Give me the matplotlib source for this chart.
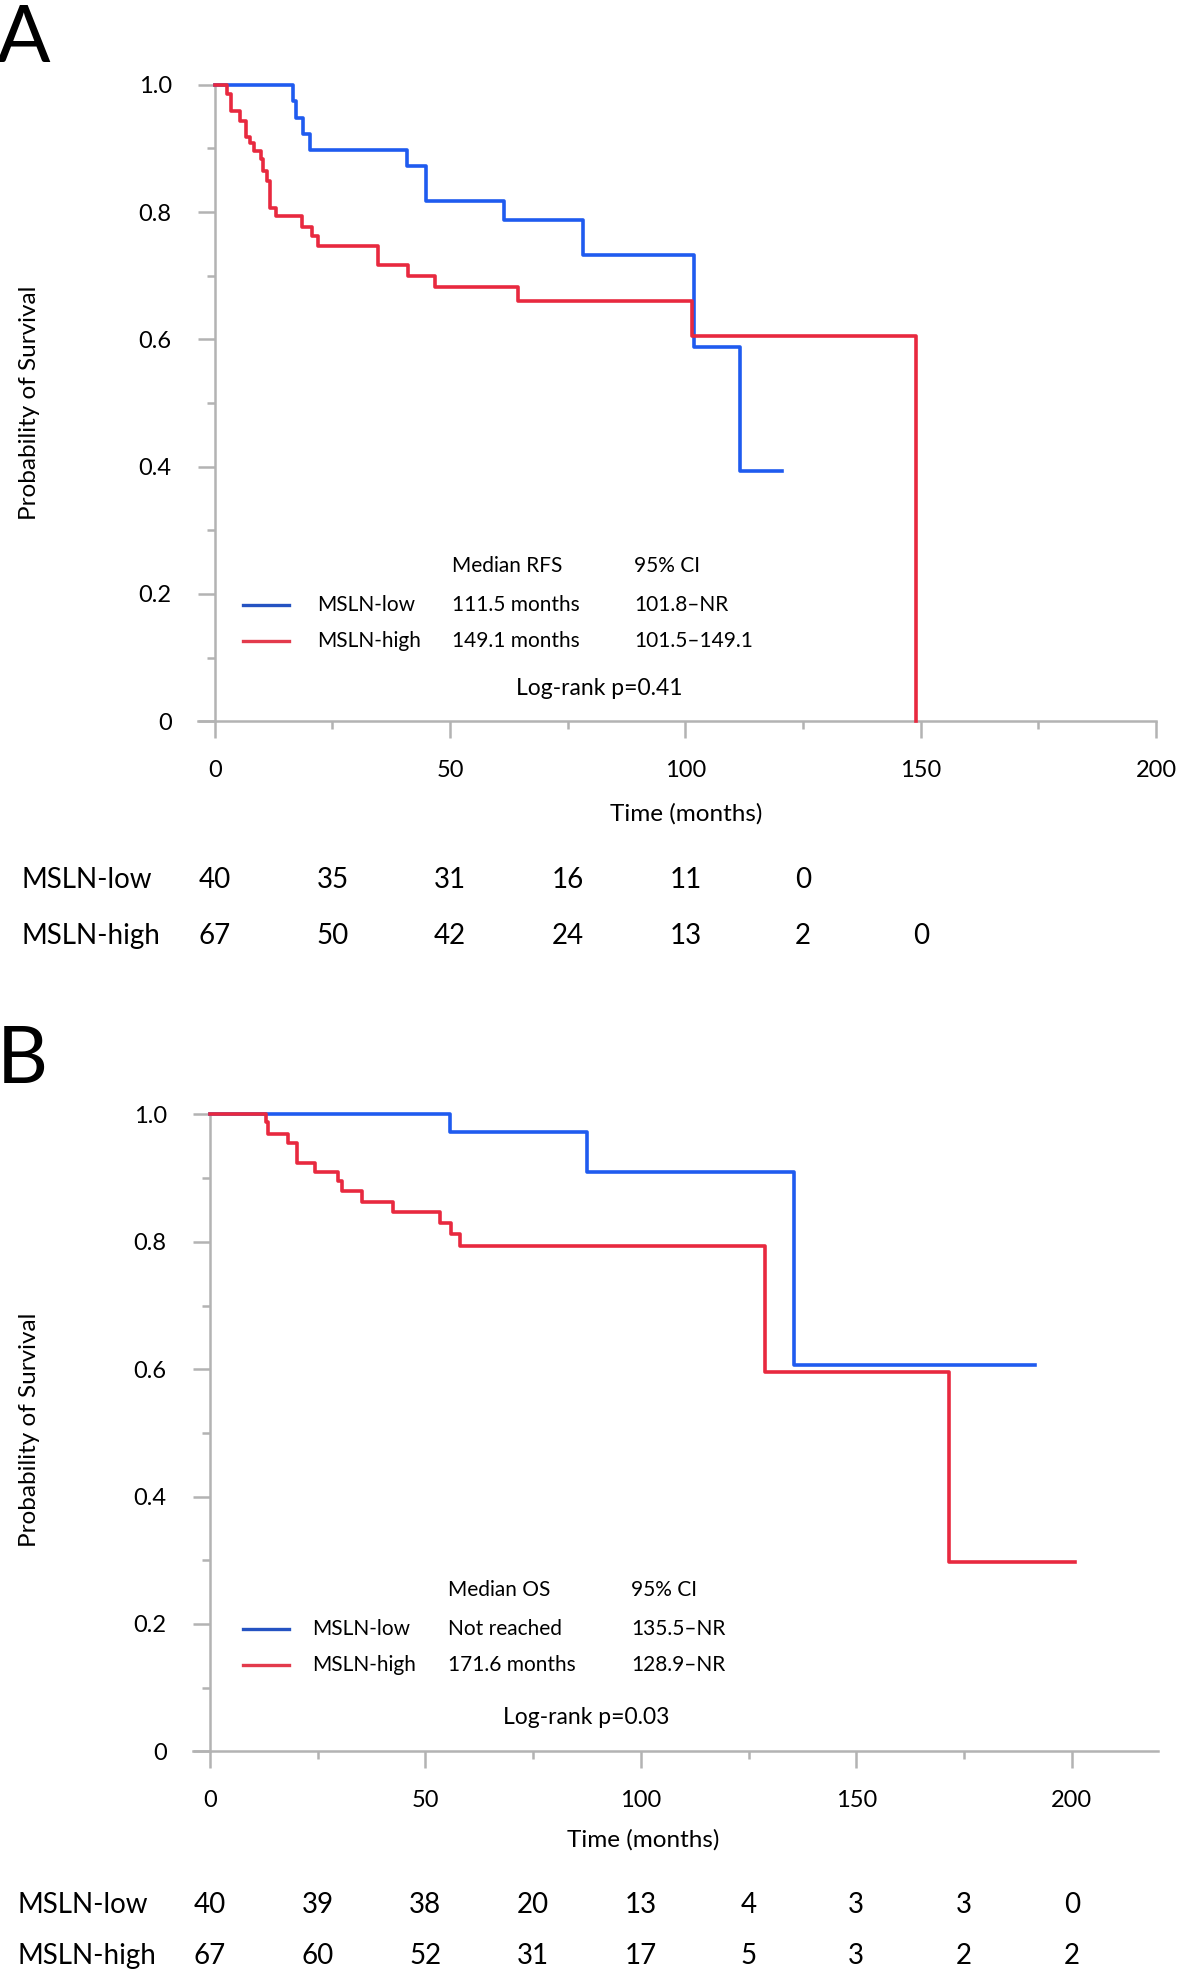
import numpy as np
import matplotlib.pyplot as plt
from matplotlib.ticker import MultipleLocator, FuncFormatter
from matplotlib.transforms import blended_transform_factory

plt.rcParams['font.family'] = ['Lato', 'DejaVu Sans']

W, H = 1181, 1971

# --- Panel A: relapse-free survival ---
a_low_t = [0, 16.6, 17.3, 18.7, 20.3, 40.8, 44.8, 61.5, 78.2, 101.9, 111.6, 120.6]
a_low_s = [1.0, 0.975, 0.948, 0.923, 0.898, 0.872, 0.817, 0.787, 0.733, 0.588, 0.393, 0.393]
a_high_t = [0, 2.5, 3.4, 5.4, 6.6, 7.5, 8.4, 9.8, 10.3, 11.0, 11.7, 12.9, 18.5, 20.6, 22.0,
            34.6, 41.1, 46.8, 64.4, 101.5, 149.1]
a_high_s = [1.0, 0.986, 0.958, 0.943, 0.918, 0.909, 0.896, 0.884, 0.865, 0.849, 0.806, 0.793,
            0.777, 0.763, 0.747, 0.716, 0.700, 0.683, 0.660, 0.605, 0.0]
a_risk_t = [0, 25, 50, 75, 100, 125, 150]
a_risk_low = [40, 35, 31, 16, 11, 0]
a_risk_high = [67, 50, 42, 24, 13, 2, 0]

# --- Panel B: overall survival ---
b_low_t = [0, 55.7, 87.6, 135.6, 191.5]
b_low_s = [1.0, 0.972, 0.909, 0.606, 0.606]
b_high_t = [0, 13.0, 13.6, 18.2, 20.2, 24.4, 29.8, 30.6, 35.2, 42.6, 53.5, 55.9, 58.1,
            128.8, 171.6, 200.8]
b_high_s = [1.0, 0.988, 0.970, 0.955, 0.923, 0.909, 0.896, 0.879, 0.862, 0.846, 0.830, 0.813,
            0.794, 0.596, 0.298, 0.298]
b_risk_t = [0, 25, 50, 75, 100, 125, 150, 175, 200]
b_risk_low = [40, 39, 38, 20, 13, 4, 3, 3, 0]
b_risk_high = [67, 60, 52, 31, 17, 5, 3, 2, 2]

groups = ['MSLN-low', 'MSLN-high']

BLUE = '#1f5bef'
RED = '#e8293f'
LEG_BLUE = '#2553c2'
LEG_RED = '#e33a4c'
GRAY = '#b3b3b3'

fig = plt.figure(figsize=(W / 100, H / 100), dpi=100)


def fpos(x, y):
    # pixel position (from top-left) -> figure fraction
    return x / W, 1 - y / H


def draw_panel(x0, ppm, xlim, y1, y0, low, high, risk, letter, letter_y,
               stats, label_x, label_y, legend_y, rows_y, row_x):
    # axis rectangle from pixel position of x=0, pixels per month and y=0/1 rows
    left_px = x0 + xlim[0] * ppm
    right_px = x0 + xlim[1] * ppm
    top_px = y0 - 1.03 * (y0 - y1)
    ax = fig.add_axes([left_px / W, 1 - y0 / H, (right_px - left_px) / W, (y0 - top_px) / H])
    ax.set_xlim(*xlim)
    ax.set_ylim(0, 1.03)

    ax.step(low[0], low[1], where='post', color=BLUE, lw=2.6, clip_on=False, zorder=3)
    ax.step(high[0], high[1], where='post', color=RED, lw=2.6, clip_on=False, zorder=4)

    for s in ['top', 'right']:
        ax.spines[s].set_visible(False)
    ax.spines['left'].set_position(('data', 0))
    ax.spines['left'].set_bounds(0, 1)
    for s in ['left', 'bottom']:
        ax.spines[s].set_color(GRAY)
        ax.spines[s].set_linewidth(1.8)

    ax.xaxis.set_major_locator(MultipleLocator(50))
    ax.xaxis.set_minor_locator(MultipleLocator(25))
    ax.yaxis.set_major_locator(MultipleLocator(0.2))
    ax.yaxis.set_minor_locator(MultipleLocator(0.1))
    ax.yaxis.set_major_formatter(FuncFormatter(lambda v, p: '0' if abs(v) < 1e-9 else f'{v:.1f}'))
    ax.tick_params(which='major', direction='out', length=12, width=1.8, color=GRAY, labelsize=17)
    ax.tick_params(which='minor', direction='out', length=6, width=1.8, color=GRAY)
    ax.tick_params(axis='y', which='major', pad=19)
    ax.tick_params(axis='x', which='major', pad=16)

    # axis titles
    fig.text(*fpos(30, label_y), 'Probability of Survival', rotation=90, ha='center', va='center', fontsize=17.5)
    fig.text(*fpos(*label_x), 'Time (months)', ha='center', va='center', fontsize=17.5)

    # panel letter
    fig.text(*fpos(-3, letter_y), letter, ha='left', va='baseline', fontsize=57)

    # legend-like table inside the plot
    ly = legend_y
    fig.add_artist(plt.Line2D([243 / W, 289 / W], [fpos(0, ly[1])[1]] * 2, color=LEG_BLUE, lw=2.4))
    fig.add_artist(plt.Line2D([243 / W, 289 / W], [fpos(0, ly[2])[1]] * 2, color=LEG_RED, lw=2.4))
    fig.text(*fpos(stats['gx'], ly[1]), groups[0], ha='left', va='center', fontsize=15)
    fig.text(*fpos(stats['gx'], ly[2]), groups[1], ha='left', va='center', fontsize=15)
    for i in range(3):
        fig.text(*fpos(stats['mx'], ly[i]), stats['median'][i], ha='left', va='center', fontsize=15)
        fig.text(*fpos(stats['cx'], ly[i]), stats['ci'][i], ha='left', va='center', fontsize=15)
    fig.text(*fpos(stats['px'], ly[3]), stats['p'], ha='center', va='center', fontsize=16.5)

    # number at risk
    tr = blended_transform_factory(ax.transData, fig.transFigure)
    for name, counts, ry in zip(groups, risk[1:], rows_y):
        fig.text(*fpos(row_x, ry), name, ha='left', va='center', fontsize=20)
        for t, n in zip(risk[0], counts):
            ax.text(t, fpos(0, ry)[1], str(n), transform=tr, ha='center', va='center',
                    fontsize=20, clip_on=False)
    return ax


draw_panel(214.8, 4.706, (-3.6, 200), 84.7, 721.3,
           (a_low_t, a_low_s), (a_high_t, a_high_s),
           (a_risk_t, a_risk_low, a_risk_high), 'A', 62,
           {'gx': 317, 'mx': 452, 'cx': 634,
            'median': ['Median RFS', '111.5 months', '149.1 months'],
            'ci': ['95% CI', '101.8\u2013NR', '101.5\u2013149.1'],
            'px': 599, 'p': 'Log-rank p=0.41'},
           (686, 814), 403, [566, 605, 641, 689], [880, 936], 22)

draw_panel(209.8, 4.31, (-3.95, 220), 1114.4, 1751.4,
           (b_low_t, b_low_s), (b_high_t, b_high_s),
           (b_risk_t, b_risk_low, b_risk_high), 'B', 1083,
           {'gx': 312, 'mx': 448, 'cx': 631,
            'median': ['Median OS', 'Not reached', '171.6 months'],
            'ci': ['95% CI', '135.5\u2013NR', '128.9\u2013NR'],
            'px': 586, 'p': 'Log-rank p=0.03'},
           (643, 1840), 1430, [1590, 1629, 1665, 1718], [1905, 1956], 17)

fig.savefig('out.png', dpi=100)
